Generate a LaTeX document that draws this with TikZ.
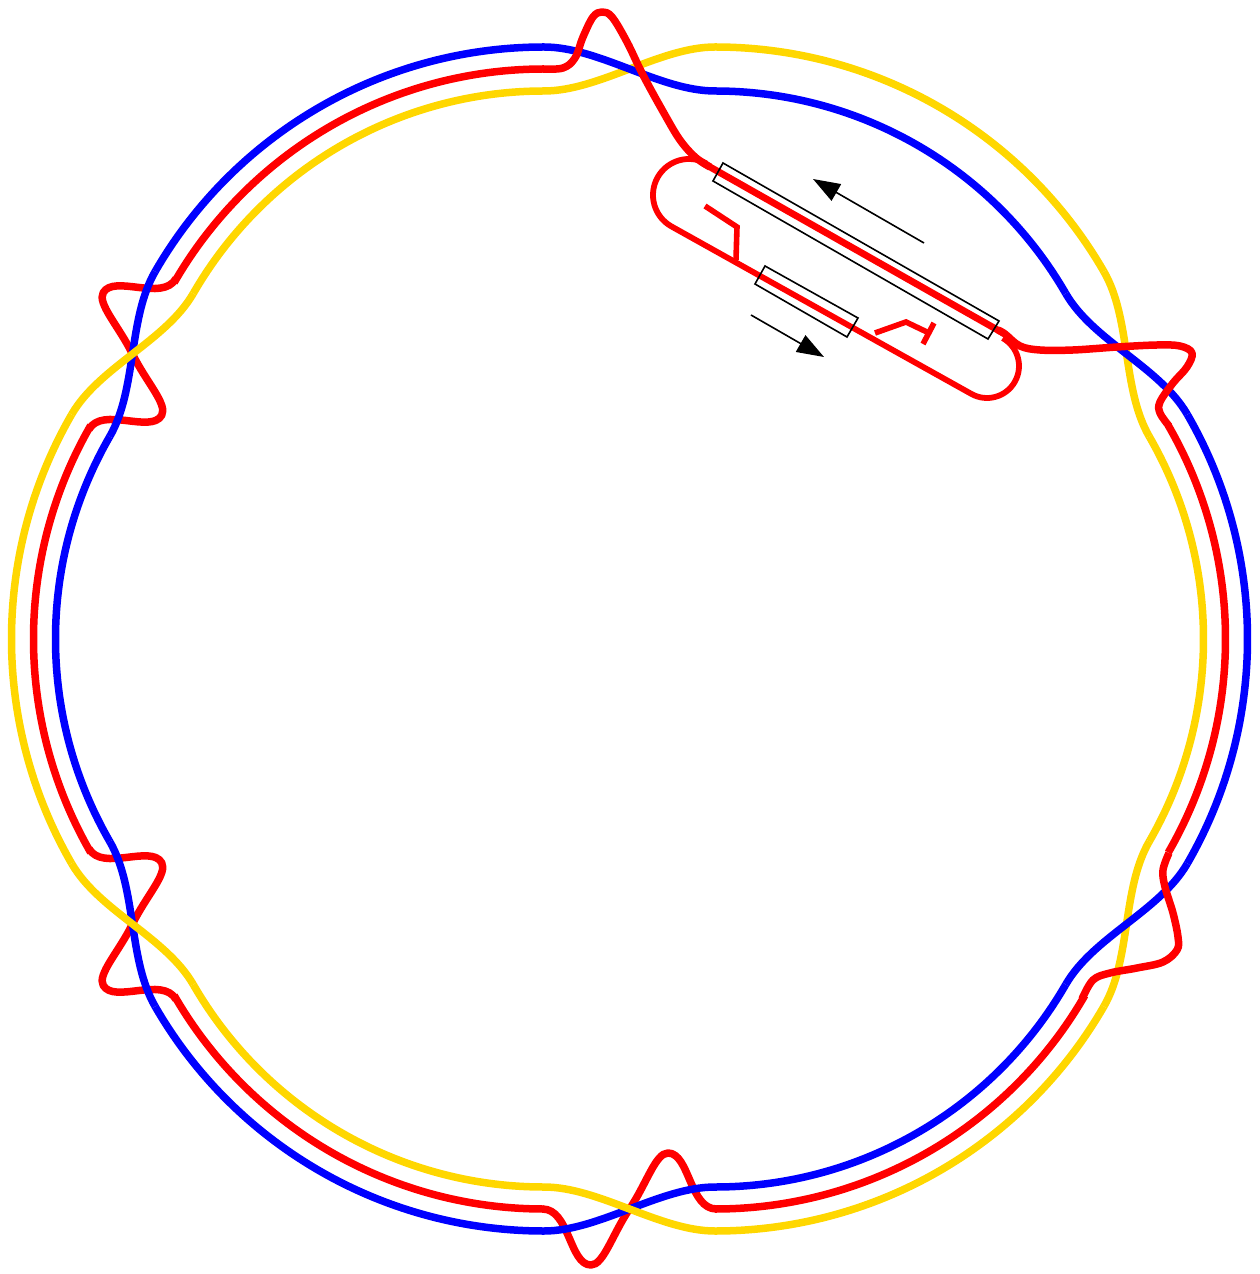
\documentclass[tikz,border=0pt]{standalone}
\usetikzlibrary{calc,arrows.meta}
\definecolor{wyellow}{RGB}{255,215,0}
\definecolor{wblue}{RGB}{0,0,255}
\definecolor{wred}{RGB}{255,0,0}
\tikzset{
  wire/.style={line width=7.5pt,line join=round},
  loopwire/.style={wred,line width=5.8pt,line join=round},
  thin black/.style={draw=black,line width=1.6pt,line join=miter},
  pointer/.style={draw=black,line width=1.6pt,-{Triangle[length=27pt,width=19pt]}},
  stub/.style={wred,line width=5.6pt,line join=miter},
  px/.style={x=1pt,y=-1pt,xshift=-629.5pt,yshift=639pt}
}
% colour, section direction, radius
\newcommand{\wirearc}[3]{\draw[wire,#1] ($(C#2)+(#2-30:#3)$) arc[start angle=#2-30,end angle=#2+30,radius=#3];}
% colour, section A, section B, boundary angle, radius A, radius B
\newcommand{\wirecross}[6]{\draw[wire,#1] ($(C#2)+(#4:#5)$) .. controls +(#4+90:55) and +(#4-90:55) .. ($(C#3)+(#4:#6)$);}
% boundary angle, y scale
\newcommand{\redtwist}[2]{\begin{scope}[shift={(T#1)},rotate=#1+90,yscale=#2]
  \draw[wire,wred] (-87,0) .. controls (-60,0) and (-60,-56) .. (-38.5,-56)
    .. controls (-26,-56) and (-17,-25) .. (0,0)
    .. controls (17,25) and (26,56) .. (38.5,56)
    .. controls (60,56) and (60,0) .. (87,0);
  \end{scope}}
\begin{document}
\begin{tikzpicture}[x=1pt,y=1pt]
\useasboundingbox (-629.5,-635) rectangle (629.5,639);
\coordinate (C0) at (169,0);
\coordinate (C60) at (85.5,143);
\coordinate (C120) at (-85.5,143);
\coordinate (C180) at (-169,0);
\coordinate (C240) at (-85.5,-143);
\coordinate (C300) at (85.5,-143);
\coordinate (T150) at ($(C120)!.5!(C180)+(150:427)$);
\coordinate (T210) at ($(C180)!.5!(C240)+(210:427)$);
\coordinate (T270) at ($(C240)!.5!(C300)+(270:427)$);
% red twists under everything
\redtwist{150}{1}
\redtwist{210}{-1}
\redtwist{270}{1}
% yellow under blue
\wirecross{wyellow}{60}{120}{90}{449}{405}
\wirecross{wyellow}{0}{60}{30}{405}{449}
\wirecross{wyellow}{300}{0}{330}{449}{405}
% blue
\wirearc{wblue}{0}{449}
\wirearc{wblue}{60}{405}
\wirearc{wblue}{120}{449}
\wirearc{wblue}{180}{405}
\wirearc{wblue}{240}{449}
\wirearc{wblue}{300}{405}
\wirecross{wblue}{0}{60}{30}{449}{405}
\wirecross{wblue}{60}{120}{90}{405}{449}
\wirecross{wblue}{120}{180}{150}{449}{405}
\wirecross{wblue}{180}{240}{210}{405}{449}
\wirecross{wblue}{240}{300}{270}{449}{405}
\wirecross{wblue}{300}{0}{330}{405}{449}
% yellow
\wirearc{wyellow}{0}{405}
\wirearc{wyellow}{60}{449}
\wirearc{wyellow}{120}{405}
\wirearc{wyellow}{180}{449}
\wirearc{wyellow}{240}{405}
\wirearc{wyellow}{300}{449}
\wirecross{wyellow}{120}{180}{150}{405}{449}
\wirecross{wyellow}{180}{240}{210}{449}{405}
\wirecross{wyellow}{240}{300}{270}{405}{449}
% red arcs
\wirearc{wred}{0}{427}
\wirearc{wred}{120}{427}
\wirearc{wred}{180}{427}
\wirearc{wred}{240}{427}
\wirearc{wred}{300}{427}
% coupler loop
\coordinate (LC) at (59.5,444);
\coordinate (RC) at (357.5,273);
\draw[loopwire] ($(LC)+(60.5:36)$) arc[start angle=60.5,end angle=240.5,radius=36]
  -- ($(RC)+(240.5:32)$) arc[start angle=240.5,end angle=420.5,radius=32];
\begin{scope}[px]
  \draw[wire,wred] plot[smooth,tension=.6] coordinates {(543,69) (563,68) (575,58) (583,37) (593,17) (602,12) (612,17) (627,42) (643,75) (665,115) (680,140) (695,157) (710,167)};
  \draw[wred,line width=6.8pt] (703,163) -- (1003,333);
  \draw[wire,wred] plot[smooth,tension=.6] coordinates {(998,330) (1005,334) (1020,346) (1040,350) (1073,350) (1117,347) (1157,345) (1180,346) (1192,353) (1187,367) (1173,383) (1160,402) (1160,413) (1169,426)};
  \draw[wire,wred] plot[smooth,tension=.6] coordinates {(1082,999) (1093,980) (1110,973) (1137,968) (1163,962) (1177,950) (1178,937) (1173,913) (1165,887) (1163,870) (1169,853)};
  % red stubs
  \draw[stub] (705,206) -- (737,227) -- (736,260);
  \draw[stub] (875,333) -- (906,322) -- (929,333);
  \draw[stub] (934,323) -- (923,344);
  % sleeves
  \coordinate (Ra) at (723,163); \coordinate (Rb) at (999,321); \coordinate (Rc) at (988,339); \coordinate (Rd) at (713,181);
  \coordinate (Sa) at (765,266); \coordinate (Sb) at (858,318); \coordinate (Sc) at (847,337); \coordinate (Sd) at (755,284);
  \draw[thin black] (Ra) -- (Rb) -- (Rc) -- (Rd) -- cycle;
  \draw[thin black] (Sa) -- (Sb) -- (Sc) -- (Sd) -- cycle;
  % arrows
  \coordinate (A1s) at (924,243); \coordinate (A1e) at (813,179);
  \coordinate (A2s) at (751,315); \coordinate (A2e) at (824,357);
  \draw[pointer] (A1s) -- (A1e);
  \draw[pointer] (A2s) -- (A2e);
\end{scope}
\end{tikzpicture}
\end{document}
